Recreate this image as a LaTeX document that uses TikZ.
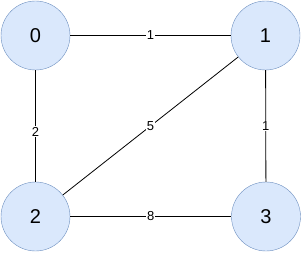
\documentclass[tikz,border=0pt]{standalone}
\usepackage{fontspec}
\setmainfont{Liberation Sans}
\begin{document}
\begin{tikzpicture}[x=1pt,y=1pt,
  vertex/.style={circle,draw={rgb,255:red,108;green,142;blue,191},fill={rgb,255:red,218;green,232;blue,252},minimum size=69pt,inner sep=0pt,font=\fontsize{20}{24}\selectfont},
  edge/.style={draw=black,line width=0.8pt},
  wlabel/.style={fill=white,inner sep=1pt,font=\fontsize{13}{15}\selectfont}]
\useasboundingbox (0,0) rectangle (302,252);
\node[vertex] (n0) at (35.5,216.5) {0};
\node[vertex] (n1) at (265.5,216.5) {1};
\node[vertex] (n2) at (35.5,35.5) {2};
\node[vertex] (n3) at (266,35.5) {3};
\draw[edge] (n0) -- node[wlabel] {1} (n1);
\draw[edge] (n0) -- node[wlabel,pos=0.55] {2} (n2);
\draw[edge] (n1) -- node[wlabel] {5} (n2);
\draw[edge] (n1) -- node[wlabel] {1} (n3);
\draw[edge] (n2) -- node[wlabel] {8} (n3);
\end{tikzpicture}
\end{document}
